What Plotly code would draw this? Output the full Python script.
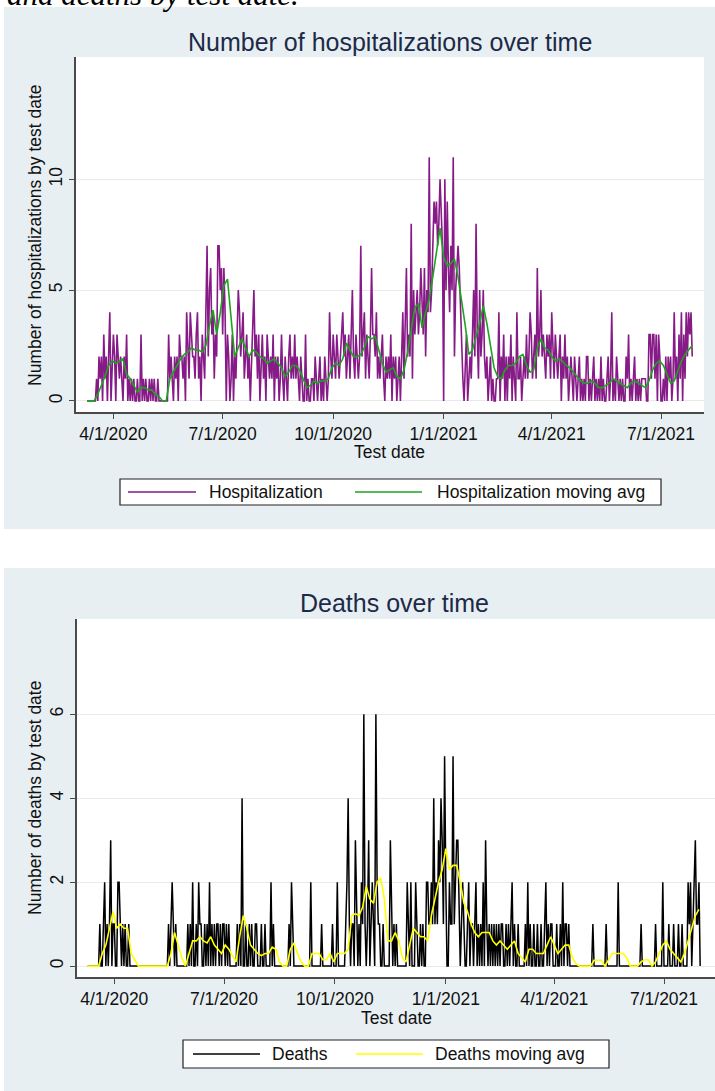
import pandas as pd
import plotly.graph_objects as go

# ---------------------------------------------------------------- data
START_DATE = "2020-03-10"

# daily hospitalizations by test date (from 3/10/2020)
hosp_daily = [
    0, 0, 0, 0, 0, 0, 0, 0, 1, 0,
    2, 1, 2, 0, 3, 1, 2, 0, 2, 4,
    0, 2, 3, 2, 0, 3, 2, 1, 2, 1,
    0, 2, 1, 3, 0, 1, 0, 1, 0, 1,
    0, 0, 1, 0, 0, 3, 0, 1, 0, 1,
    0, 0, 1, 0, 1, 0, 1, 0, 0, 1,
    0, 0, 0, 0, 0, 0, 0, 0, 3, 1,
    2, 1, 0, 2, 1, 2, 0, 3, 2, 2,
    1, 2, 0, 4, 2, 1, 4, 3, 2, 2,
    1, 3, 4, 1, 2, 0, 3, 2, 1, 4,
    7, 2, 5, 6, 3, 4, 1, 3, 2, 7,
    7, 5, 6, 3, 6, 4, 0, 3, 2, 0,
    1, 3, 0, 2, 1, 3, 5, 4, 2, 3,
    4, 1, 2, 3, 1, 2, 0, 2, 3, 5,
    2, 3, 1, 3, 0, 2, 3, 1, 2, 0,
    3, 2, 1, 2, 1, 3, 0, 2, 1, 2,
    0, 1, 3, 1, 0, 2, 1, 0, 2, 3,
    1, 2, 1, 3, 1, 2, 1, 0, 2, 1,
    0, 0, 3, 0, 1, 0, 0, 1, 1, 0,
    2, 1, 0, 1, 2, 0, 1, 0, 2, 1,
    0, 1, 4, 2, 1, 3, 2, 1, 3, 2,
    1, 2, 3, 4, 2, 3, 1, 2, 3, 1,
    3, 5, 2, 1, 3, 2, 1, 2, 7, 2,
    3, 4, 1, 3, 2, 1, 3, 6, 3, 3,
    2, 4, 1, 2, 1, 2, 3, 1, 0, 2,
    1, 2, 1, 3, 0, 2, 1, 2, 0, 1,
    2, 0, 2, 4, 1, 3, 6, 2, 3, 2,
    8, 1, 5, 3, 4, 5, 3, 4, 6, 4,
    3, 6, 2, 5, 4, 11, 4, 5, 7, 9,
    8, 9, 7, 8, 10, 8, 7, 0, 10, 5,
    9, 6, 4, 7, 5, 11, 2, 5, 6, 7,
    6, 4, 3, 1, 0, 2, 3, 0, 1, 2,
    1, 3, 5, 2, 8, 3, 1, 5, 2, 3,
    5, 2, 1, 2, 0, 1, 2, 0, 1, 0,
    0, 1, 1, 4, 0, 2, 1, 3, 0, 2,
    0, 2, 1, 3, 0, 2, 1, 0, 4, 1,
    1, 2, 0, 1, 2, 1, 3, 1, 2, 4,
    3, 1, 2, 3, 1, 6, 2, 3, 5, 2,
    3, 2, 1, 3, 2, 3, 1, 4, 2, 1,
    3, 2, 1, 2, 3, 0, 2, 1, 3, 1,
    2, 0, 1, 2, 1, 0, 2, 1, 0, 1,
    2, 0, 1, 0, 1, 0, 2, 2, 0, 1,
    0, 1, 2, 0, 1, 0, 1, 0, 2, 0,
    1, 0, 0, 1, 2, 0, 1, 4, 0, 1,
    0, 2, 1, 0, 1, 0, 1, 0, 0, 2,
    1, 3, 0, 1, 0, 1, 2, 0, 1, 0,
    1, 0, 1, 1, 1, 1, 0, 0, 3, 3,
    1, 3, 3, 1, 3, 0, 3, 2, 0, 0,
    1, 0, 2, 0, 2, 1, 2, 0, 1, 4,
    1, 2, 0, 3, 1, 4, 0, 3, 1, 4,
    2, 4, 3, 4, 2,
]

# hospitalization moving average, sampled every 3 days (from 3/10/2020)
hosp_ma = [
    0, 0, 0, 0.3, 0.7, 1.1, 1.6, 1.8, 1.7, 1.8,
    1.9, 1.2, 1.0, 0.7, 0.4, 0.6, 0.6, 0.5, 0.5, 0.3,
    0.2, 0.0, 0.0, 1.0, 1.3, 1.6, 1.9, 2.1, 2.2, 2.4,
    2.3, 2.3, 2.2, 2.5, 3.4, 4.1, 3.0, 4.0, 5.2, 5.5,
    3.9, 2.0, 2.4, 2.8, 2.4, 2.0, 2.3, 2.2, 2.0, 1.9,
    1.7, 1.8, 1.9, 1.7, 1.5, 1.1, 1.3, 1.6, 1.6, 1.4,
    1.0, 0.6, 0.7, 0.9, 0.8, 0.9, 0.9, 1.0, 1.5, 1.7,
    1.6, 1.9, 2.6, 2.3, 2.0, 2.0, 2.1, 2.4, 2.9, 2.8,
    2.9, 2.3, 1.7, 1.3, 1.4, 1.5, 1.1, 1.0, 1.4, 2.2,
    3.2, 4.2, 4.4, 3.3, 4.0, 4.6, 5.6, 6.8, 7.8, 6.5,
    6.1, 6.2, 6.4, 5.6, 4.6, 3.4, 2.1, 2.3, 2.9, 3.5,
    4.3, 3.5, 2.5, 1.5, 1.1, 1.0, 1.4, 1.6, 1.6, 1.7,
    2.0, 2.1, 1.6, 1.3, 1.4, 2.4, 2.8, 2.4, 2.3, 2.0,
    1.8, 1.9, 1.8, 1.6, 1.5, 1.3, 1.1, 0.9, 0.8, 0.8,
    0.9, 0.8, 0.6, 0.6, 0.7, 0.8, 1.0, 0.9, 0.8, 0.7,
    0.6, 0.8, 0.9, 0.8, 0.7, 0.6, 0.9, 1.4, 1.7, 1.8,
    1.6, 1.2, 0.8, 0.9, 1.4, 1.8, 2.1, 2.3, 2.5,
]

# daily deaths by test date (from 3/10/2020)
deaths_daily = [
    0, 0, 0, 0, 0, 0, 0, 0, 0, 0,
    1, 0, 0, 1, 2, 0, 1, 0, 1, 3,
    0, 1, 1, 0, 0, 2, 2, 1, 0, 1,
    0, 1, 0, 0, 1, 0, 0, 0, 0, 0,
    0, 0, 0, 0, 0, 0, 0, 0, 0, 0,
    0, 0, 0, 0, 0, 0, 0, 0, 0, 0,
    0, 0, 0, 0, 0, 0, 0, 1, 0, 1,
    2, 1, 0, 1, 0, 0, 0, 0, 0, 0,
    0, 0, 0, 1, 0, 1, 0, 2, 0, 0,
    1, 0, 2, 1, 1, 0, 0, 1, 0, 1,
    0, 2, 0, 1, 0, 1, 0, 1, 1, 0,
    1, 0, 1, 1, 0, 1, 0, 1, 0, 0,
    0, 0, 0, 0, 1, 0, 1, 0, 4, 0,
    0, 1, 0, 0, 1, 0, 1, 0, 0, 1,
    1, 0, 0, 0, 1, 0, 0, 1, 0, 0,
    0, 0, 2, 0, 1, 0, 0, 0, 0, 0,
    0, 0, 0, 0, 0, 0, 0, 1, 0, 2,
    1, 0, 0, 0, 0, 0, 0, 0, 0, 0,
    0, 0, 0, 0, 0, 2, 0, 0, 0, 0,
    0, 0, 0, 0, 1, 0, 0, 0, 0, 0,
    0, 0, 0, 1, 0, 0, 0, 2, 0, 0,
    0, 0, 0, 0, 1, 2, 4, 1, 0, 1,
    1, 0, 3, 1, 0, 1, 0, 2, 1, 6,
    1, 0, 1, 3, 0, 1, 2, 1, 0, 6,
    2, 1, 1, 0, 0, 1, 0, 0, 0, 0,
    0, 3, 1, 0, 1, 0, 1, 0, 0, 0,
    0, 0, 0, 0, 0, 2, 1, 0, 2, 0,
    0, 0, 2, 1, 0, 0, 1, 0, 1, 0,
    0, 2, 2, 1, 1, 2, 1, 4, 1, 2,
    1, 3, 2, 4, 3, 1, 5, 2, 0, 0,
    2, 1, 1, 5, 1, 2, 3, 3, 1, 0,
    1, 2, 1, 0, 0, 1, 2, 0, 1, 1,
    0, 1, 2, 0, 1, 0, 1, 0, 2, 0,
    3, 1, 0, 1, 0, 1, 0, 1, 0, 1,
    0, 1, 0, 1, 1, 0, 0, 1, 0, 1,
    0, 1, 2, 0, 1, 0, 0, 1, 0, 0,
    0, 0, 0, 1, 0, 2, 0, 1, 0, 0,
    1, 0, 0, 1, 0, 0, 1, 0, 0, 1,
    2, 0, 1, 0, 1, 1, 0, 0, 0, 1,
    0, 0, 1, 0, 2, 0, 1, 1, 0, 1,
    0, 0, 0, 0, 0, 0, 0, 0, 0, 0,
    0, 0, 0, 0, 0, 0, 0, 0, 0, 1,
    0, 0, 0, 0, 0, 0, 0, 0, 0, 0,
    1, 0, 0, 0, 0, 0, 0, 0, 0, 0,
    2, 0, 0, 0, 0, 0, 0, 0, 0, 0,
    0, 0, 0, 0, 0, 0, 0, 0, 0, 1,
    0, 0, 0, 0, 0, 0, 0, 0, 0, 0,
    0, 1, 0, 0, 0, 0, 0, 2, 0, 0,
    0, 0, 1, 0, 0, 0, 1, 0, 0, 0,
    1, 0, 0, 1, 0, 0, 0, 0, 2, 1,
    2, 0, 1, 2, 3, 1, 1, 2, 0,
]

# deaths moving average, sampled every 3 days (from 3/10/2020)
deaths_ma = [
    0, 0, 0, 0, 0.3, 0.5, 0.9, 1.3, 0.9, 1.0,
    0.9, 0.9, 0.3, 0.15, 0, 0, 0, 0, 0, 0,
    0, 0, 0, 0.3, 0.8, 0.5, 0.2, 0, 0.3, 0.6,
    0.6, 0.7, 0.6, 0.55, 0.7, 0.5, 0.4, 0.3, 0.5, 0.4,
    0.25, 0.1, 0.7, 1.2, 0.9, 0.5, 0.4, 0.3, 0.25, 0.3,
    0.3, 0.45, 0.4, 0.1, 0, 0, 0.4, 0.55, 0.3, 0.1,
    0, 0, 0.3, 0.3, 0.3, 0.15, 0.15, 0.3, 0.1, 0.3,
    0.3, 0.3, 0.4, 1.2, 1.25, 1.2, 1.4, 1.9, 1.6, 1.5,
    2.0, 2.1, 1.6, 0.6, 0.6, 0.8, 0.6, 0.2, 0.1, 0.5,
    0.9, 0.8, 0.7, 0.7, 0.6, 1.2, 1.6, 2.0, 2.3, 2.8,
    2.3, 2.4, 2.4, 2.0, 1.5, 1.3, 1.0, 0.8, 0.7, 0.8,
    0.8, 0.8, 0.6, 0.5, 0.6, 0.5, 0.4, 0.5, 0.6, 0.3,
    0.2, 0.1, 0.4, 0.4, 0.3, 0.3, 0.3, 0.5, 0.7, 0.5,
    0.3, 0.4, 0.5, 0.5, 0.2, 0.05, 0, 0, 0, 0,
    0.14, 0.14, 0.14, 0, 0.14, 0.3, 0.3, 0.3, 0.3, 0.2,
    0, 0, 0, 0.1, 0.15, 0.15, 0, 0.1, 0.3, 0.5,
    0.6, 0.4, 0.3, 0.2, 0.1, 0.3, 0.6, 0.9, 1.2, 1.35,
]

tick_dates = ["2020-04-01", "2020-07-01", "2020-10-01",
              "2021-01-01", "2021-04-01", "2021-07-01"]
tick_labels = ["4/1/2020", "7/1/2020", "10/1/2020",
               "1/1/2021", "4/1/2021", "7/1/2021"]
hosp_yticks = [0, 5, 10]
deaths_yticks = [0, 2, 4, 6]

hosp_dates = pd.date_range(START_DATE, periods=len(hosp_daily), freq="D")
hosp_ma_dates = pd.date_range(START_DATE, periods=len(hosp_ma), freq="3D")
deaths_dates = pd.date_range(START_DATE, periods=len(deaths_daily), freq="D")
deaths_ma_dates = pd.date_range(START_DATE, periods=len(deaths_ma), freq="3D")

# ---------------------------------------------------------------- page geometry (pixels)
W, H = 715, 1091
PANEL_BG = "#E8EFF2"
AXIS_COL = "#4a4a4a"
TEXT_COL = "#111111"
TITLE_COL = "#1c2a48"
FONT = "Liberation Sans, Arial, sans-serif"


def fx(px):
    return px / W


def fy(py):
    return 1 - py / H


def date_range_for(left_px, right_px, first_tick_px, last_tick_px):
    t0 = pd.Timestamp(tick_dates[0])
    t1 = pd.Timestamp(tick_dates[-1])
    px_per_day = (last_tick_px - first_tick_px) / (t1 - t0).days
    lo = t0 + pd.Timedelta(days=(left_px - first_tick_px) / px_per_day)
    hi = t0 + pd.Timedelta(days=(right_px - first_tick_px) / px_per_day)
    return [lo, hi]


# plot-area boxes: (left, right, top, bottom)
P1 = (76, 704, 57, 412)
P2 = (77, 715, 619, 977)

fig = go.Figure()

fig.add_trace(go.Scatter(x=hosp_dates, y=hosp_daily, mode="lines",
                         line=dict(color="#861A86", width=1.6),
                         name="Hospitalization", xaxis="x", yaxis="y",
                         showlegend=False))
fig.add_trace(go.Scatter(x=hosp_ma_dates, y=hosp_ma, mode="lines",
                         line=dict(color="#1FA21F", width=1.6),
                         name="Hospitalization moving avg", xaxis="x", yaxis="y",
                         showlegend=False))
fig.add_trace(go.Scatter(x=deaths_dates, y=deaths_daily, mode="lines",
                         line=dict(color="#000000", width=1.5),
                         name="Deaths", xaxis="x2", yaxis="y2",
                         showlegend=False))
fig.add_trace(go.Scatter(x=deaths_ma_dates, y=deaths_ma, mode="lines",
                         line=dict(color="#FFFF00", width=1.6),
                         name="Deaths moving avg", xaxis="x2", yaxis="y2",
                         showlegend=False))

xaxis_common = dict(type="date", tickmode="array", tickvals=tick_dates,
                    ticktext=tick_labels, showgrid=False, zeroline=False,
                    showline=True, linecolor=AXIS_COL, linewidth=1.5,
                    ticks="outside", ticklen=5, tickwidth=1.2, tickcolor=AXIS_COL,
                    tickfont=dict(family=FONT, size=17.5, color=TEXT_COL),
                    automargin=False, fixedrange=True)
yaxis_common = dict(showgrid=True, gridcolor="#EAEAEA", gridwidth=1,
                    zeroline=False, showline=True, linecolor=AXIS_COL,
                    linewidth=1.5, ticks="outside", ticklen=5, tickwidth=1.2,
                    tickcolor=AXIS_COL, tickangle=-90,
                    tickfont=dict(family=FONT, size=17.5, color=TEXT_COL),
                    automargin=False, fixedrange=True)

fig.update_layout(
    width=W, height=H,
    margin=dict(l=0, r=0, t=0, b=0),
    paper_bgcolor="white", plot_bgcolor="rgba(0,0,0,0)",
    showlegend=False,
    xaxis=dict(xaxis_common, domain=[fx(P1[0]), fx(P1[1])], anchor="y",
               range=date_range_for(P1[0], P1[1], 113.4, 661.0)),
    yaxis=dict(yaxis_common, domain=[fy(P1[3]), fy(P1[2])], anchor="x",
               range=[-0.50, 15.52], tickvals=hosp_yticks),
    xaxis2=dict(xaxis_common, domain=[fx(P2[0]), fx(P2[1])], anchor="y2",
                range=date_range_for(P2[0], P2[1], 114.3, 664.0)),
    yaxis2=dict(yaxis_common, domain=[fy(P2[3]), fy(P2[2])], anchor="x2",
                range=[-0.26, 8.27], tickvals=deaths_yticks),
)

shapes = []
# panel backgrounds
shapes.append(dict(type="rect", xref="paper", yref="paper", layer="below",
                   x0=fx(4), x1=fx(W + 2), y0=fy(529), y1=fy(7),
                   fillcolor=PANEL_BG, line=dict(width=0)))
shapes.append(dict(type="rect", xref="paper", yref="paper", layer="below",
                   x0=fx(4), x1=fx(W + 2), y0=fy(H + 2), y1=fy(568),
                   fillcolor=PANEL_BG, line=dict(width=0)))
# white plot regions
for (l, r, t, b) in (P1, P2):
    shapes.append(dict(type="rect", xref="paper", yref="paper", layer="below",
                       x0=fx(l), x1=fx(r), y0=fy(b), y1=fy(t),
                       fillcolor="white", line=dict(width=0)))

annotations = []


def text(x, y, s, size, color=TEXT_COL, angle=0, xanchor="center",
         family=FONT, style="normal"):
    annotations.append(dict(x=fx(x), y=fy(y), xref="paper", yref="paper",
                            text=s, showarrow=False, textangle=angle,
                            xanchor=xanchor, yanchor="middle",
                            font=dict(family=family, size=size, color=color,
                                      style=style)))


def legend_box(x0, x1, y0, y1, items):
    shapes.append(dict(type="rect", xref="paper", yref="paper", layer="above",
                       x0=fx(x0), x1=fx(x1), y0=fy(y1), y1=fy(y0),
                       fillcolor="white", line=dict(color="#222222", width=1.2)))
    ym = (y0 + y1) / 2
    for lx0, lx1, color, label, tx in items:
        shapes.append(dict(type="line", xref="paper", yref="paper", layer="above",
                           x0=fx(lx0), x1=fx(lx1), y0=fy(ym), y1=fy(ym),
                           line=dict(color=color, width=1.6)))
        text(tx, ym, label, 17.5, xanchor="left")


# caption line running off the top of the page
text(5, -5, "and deaths by test date.", 31, color="#000000", xanchor="left",
     family="Liberation Serif, Times New Roman, serif", style="italic")

# panel 1
text(390, 42, "Number of hospitalizations over time", 25, color=TITLE_COL)
text(35, 235, "Number of hospitalizations by test date", 17.5, angle=-90)
text(390, 452, "Test date", 17.5)
legend_box(120, 661, 479, 505, [
    (128, 196, "#861A86", "Hospitalization", 207),
    (355, 422, "#1FA21F", "Hospitalization moving avg", 435),
])

# panel 2
text(394, 603, "Deaths over time", 25, color=TITLE_COL)
text(35, 798, "Number of deaths by test date", 17.5, angle=-90)
text(396, 1018, "Test date", 17.5)
legend_box(183, 609, 1040, 1068, [
    (193, 260, "#000000", "Deaths", 270),
    (356, 423, "#FFFF00", "Deaths moving avg", 433),
])

fig.update_layout(shapes=shapes, annotations=annotations)
fig.write_html("out.html")
